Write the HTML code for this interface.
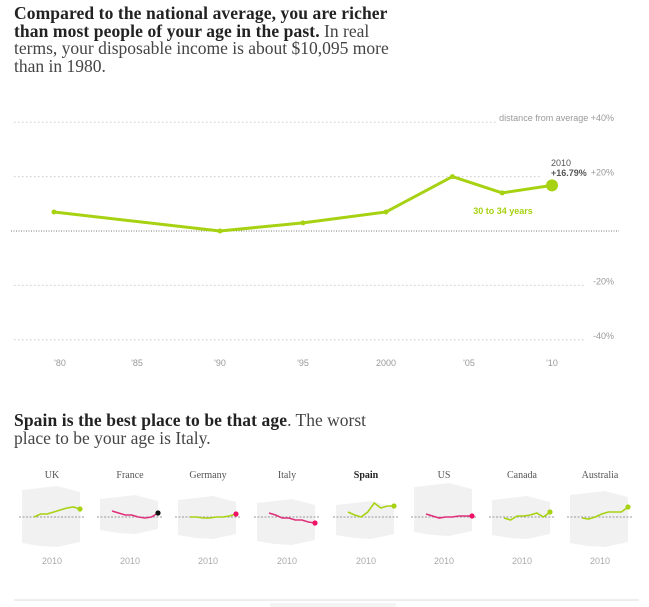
<!DOCTYPE html>
<html><head><meta charset="utf-8">
<style>
body{margin:0;background:#fff;width:649px;height:607px;overflow:hidden;font-family:"Liberation Sans",sans-serif;}
.t{position:absolute;left:14px;font-family:"Liberation Serif",serif;font-size:17.5px;line-height:17.5px;color:#333;white-space:nowrap}
.t b{color:#222;letter-spacing:0.1px}
.t span{color:#444;font-weight:300}
svg{position:absolute;left:0;top:0}
</style></head><body>
<div class="t" style="top:5px"><b>Compared to the national average, you are richer<br>than most people of your age in the past.</b> <span>In real<br>terms, your disposable income is about $10,095 more<br>than in 1980.</span></div>
<div class="t" style="top:412px"><b>Spain is the best place to be that age</b><span>. The worst<br>place to be your age is Italy.</span></div>
<svg id="main" width="649" height="607"></svg>
<script>
const years=[1980,1990,1995,2000,2004,2007,2010];
const values=[7,0,3,7,20,14,16.79];
const yTicks=[40,20,-20,-40];
const yTickLabels=["distance from average +40%","+20%","-20%","-40%"];
const xTicks=[1980,1985,1990,1995,2000,2005,2010];
const xTickLabels=["'80","'85","'90","'95","2000","'05","'10"];
const countries=["UK","France","Germany","Italy","Spain","US","Canada","Australia"];
const cUK=[0,3,3,5,7,9,10,8];
const cFrance=[6,4,2,2,0,-1,0,4];
const cGermany=[0,0,-1,-1,0,0,1,3];
const cItaly=[4,2,-1,-1,-3,-3,-5,-6];
const cSpain=[5,2,0,5,14,9,11,11];
const cUS=[3,1,-1,0,0,1,1,1];
const cCanada=[-1,-3,1,1,2,4,0,5];
const cAustralia=[-1,-2,0,3,5,5,5,10];
const series=[cUK,cFrance,cGermany,cItaly,cSpain,cUS,cCanada,cAustralia];
const bandTop=[27,18,17,14,12,30,17,22];
const bandBot=[-28,-15,-20,-26,-20,-17,-20,-28];
const ends=["#a7d212","#111","#ee1166","#ee1166","#a7d212","#ee1166","#a7d212","#a7d212"];
const lineCol=["#a7d212","#e0307a","#a7d212","#e0307a","#a7d212","#e0307a","#a7d212","#a7d212"];

const NS="http://www.w3.org/2000/svg";
const svg=document.getElementById('main');
function mk(tag,attrs,parent){const e=document.createElementNS(NS,tag);for(const k in attrs)e.setAttribute(k,attrs[k]);(parent||svg).appendChild(e);return e;}
const X=y=>220+(y-1990)*16.6;
const Y=v=>231-v*2.72;

yTicks.forEach((v,i)=>{
  const l=mk('line',{x1:14,x2:i==0?496:(i==1?540:586),y1:Y(v),y2:Y(v),stroke:'#ccc','stroke-dasharray':'1.5,2.5','stroke-width':1});
  
  
  const t=mk('text',{x:614,y:Y(v)-1,'text-anchor':'end','font-size':9,fill:'#999'});
  t.textContent=yTickLabels[i];
  
  
});
const z=mk('line',{x1:11,x2:619,y1:Y(0),y2:Y(0),stroke:'#777','stroke-dasharray':'1,1.5','stroke-width':1});


xTicks.forEach((yr,i)=>{
  const t=mk('text',{x:X(yr)+(i==0?6:0),y:366,'text-anchor':'middle','font-size':9,fill:'#999'});
  t.textContent=xTickLabels[i];
  
  
});
const pl=mk('polyline',{points:years.map((y,i)=>X(y)+','+Y(values[i])).join(' '),fill:'none',stroke:'#a7d212','stroke-width':3,'stroke-linejoin':'round'});


years.forEach((y,i)=>{
  const last=i==years.length-1;
  const c=mk('circle',{cx:X(y),cy:Y(values[i]),r:last?6:2.5,fill:'#a7d212'});
  
  
});
let t=mk('text',{x:551,y:166,'font-size':9,fill:'#555'});t.textContent='2010';


t=mk('text',{x:551,y:176,'font-size':9,'font-weight':'bold',fill:'#555'});t.textContent='+16.79%';


t=mk('text',{x:503,y:214,'text-anchor':'middle','font-size':9,'font-weight':'bold',fill:'#a7d212'});t.textContent='30 to 34 years';



const centers=[52,130,208,287,366,444,522,600];
const zy=517;
countries.forEach((c,ci)=>{
  const cx=centers[ci];
  const g=mk('g',{});
  
  
  const bt=bandTop[ci],bb=bandBot[ci];
  const b=mk('path',{d:`M${cx-30},${zy-bt} L${cx-12},${zy-bt-2} L${cx+5},${zy-bt-4} L${cx+28},${zy-bt+2} L${cx+28},${zy-bb-3} L${cx+5},${zy-bb+2} L${cx-12},${zy-bb+1} L${cx-30},${zy-bb-2} Z`,fill:'#f1f1f1'},g);
  
  
  const d=mk('line',{x1:cx-33,x2:cx+33,y1:zy,y2:zy,stroke:'#999','stroke-dasharray':'2,1.5','stroke-width':1},g);
  
  
  const s=series[ci];
  const px=i=>cx-18+i*(46/(s.length-1));
  const l=mk('polyline',{points:s.map((v,i)=>px(i)+','+(zy-v)).join(' '),fill:'none',stroke:lineCol[ci],'stroke-width':1.6},g);
  
  
  const e=mk('circle',{cx:px(s.length-1),cy:zy-s[s.length-1],r:2.6,fill:ends[ci]},g);
  
  
  const tt=mk('text',{x:cx,y:478,'text-anchor':'middle','font-size':10,'font-family':'Liberation Serif,serif',fill:ci==4?'#222':'#555','font-weight':ci==4?'bold':'normal'},g);
  tt.textContent=c;
  
  
  const y2=mk('text',{x:cx,y:564,'text-anchor':'middle','font-size':9,fill:'#aaa'},g);
  y2.textContent='2010';
  
  
});
const r=mk('line',{x1:14,x2:639,y1:600,y2:600,stroke:'#ddd','stroke-width':1});


const r2=mk('rect',{x:270,y:603,width:126,height:4,fill:'#f4f4f4'});


</script>
</body></html>
